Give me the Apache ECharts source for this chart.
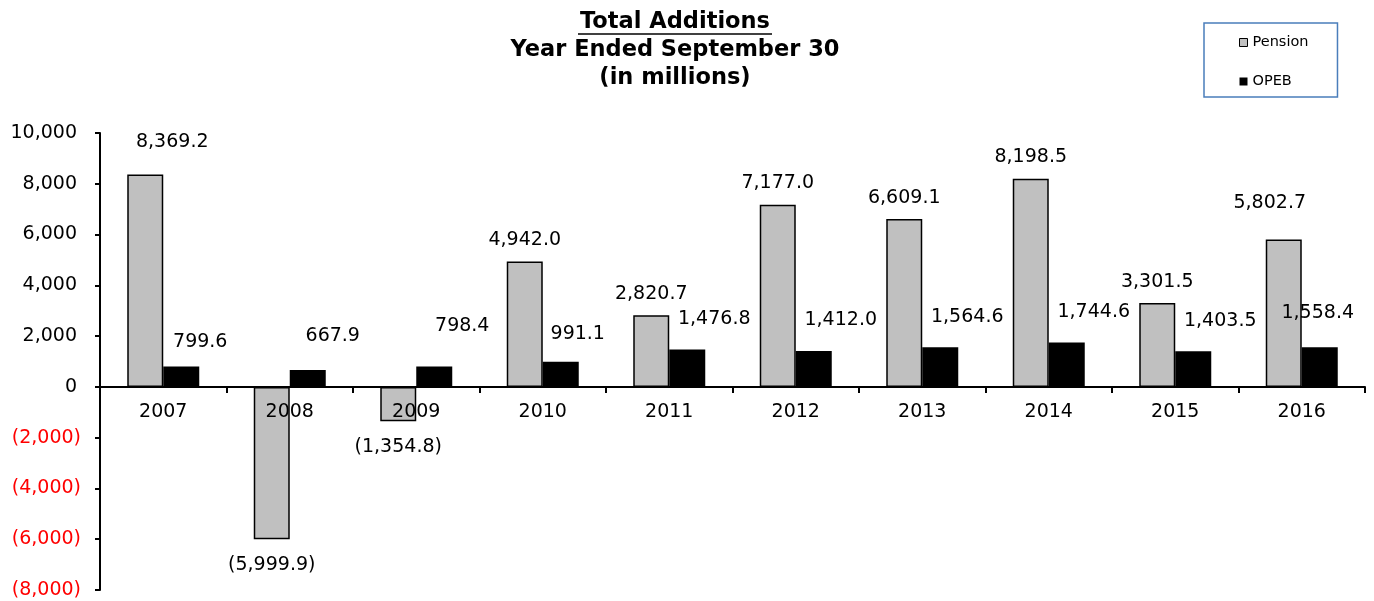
<!DOCTYPE html>
<html lang="en">
<head>
    <meta charset="utf-8">
    <title>Total Additions</title>
    <style>
        html, body { margin: 0; padding: 0; background: #fff; }
        #main { width: 1374px; height: 601px; }
    </style>
</head>
<body>
<div id="main"></div>

<script src="https://cdn.jsdelivr.net/npm/echarts@6/dist/echarts.min.js"></script>
<script type="text/javascript">
    // data
    var years = ['2007', '2008', '2009', '2010', '2011', '2012', '2013', '2014', '2015', '2016'];
    var pension = [8369.2, -5999.9, -1354.8, 4942.0, 2820.7, 7177.0, 6609.1, 8198.5, 3301.5, 5802.7];
    var opeb = [799.6, 667.9, 798.4, 991.1, 1476.8, 1412.0, 1564.6, 1744.6, 1403.5, 1558.4];
    var yTicks = [-8000, 10000, 2000]; // min, max, step

    var font = '"DejaVu Sans", sans-serif';

    function fmt(v, digits) {
        var s = Math.abs(v).toLocaleString('en-US', {
            minimumFractionDigits: digits,
            maximumFractionDigits: digits
        });
        return v < 0 ? '(' + s + ')' : s;
    }

    // hand-placed labels in the original, nudged from the default spot
    var pensionNudge = {0: [27, -11], 9: [-14, -15]};
    var opebNudge = {0: [-8, 6], 1: [-2, -3], 2: [1, -10], 3: [-10, 3], 9: [-29, -4]};

    function labelFor(v, i, nudge, base) {
        var off = nudge[i] || [0, 0];
        return {
            position: v < 0 ? 'bottom' : 'top',
            distance: v < 0 ? 16 : base.dist,
            offset: [base.dx + off[0], off[1]]
        };
    }

    // grid geometry, used to put the category axis on the zero line
    var gridTop = 133, gridBottom = 11, chartH = 601;
    var plotH = chartH - gridTop - gridBottom;
    var zeroShift = plotH * (0 - yTicks[0]) / (yTicks[1] - yTicks[0]);

    var myChart = echarts.init(document.getElementById('main'));

    var titleFont = 'bold 22.5px ' + font;

    myChart.setOption({
        animation: false,
        textStyle: {fontFamily: font},
        grid: {left: 100, right: 9, top: gridTop, bottom: gridBottom, containLabel: false, outerBoundsMode: 'none'},
        graphic: [
            {type: 'text', x: 675, y: 22, style: {text: 'Total Additions', font: titleFont, fill: '#000', textAlign: 'center', textVerticalAlign: 'middle', verticalAlign: 'middle'}},
            {type: 'line', shape: {x1: 578, y1: 34, x2: 772, y2: 34}, style: {stroke: '#000', lineWidth: 1.5}},
            {type: 'text', x: 675, y: 50, style: {text: 'Year Ended September 30', font: titleFont, fill: '#000', textAlign: 'center', textVerticalAlign: 'middle', verticalAlign: 'middle'}},
            {type: 'text', x: 675, y: 78, style: {text: '(in millions)', font: titleFont, fill: '#000', textAlign: 'center', textVerticalAlign: 'middle', verticalAlign: 'middle'}}
        ],
        legend: {
            orient: 'vertical',
            left: 1204,
            top: 23,
            padding: [12, 29, 8, 35],
            borderColor: '#4A7EBB',
            borderWidth: 1.5,
            itemWidth: 8,
            itemHeight: 8,
            itemGap: 24,
            icon: 'rect',
            textStyle: {fontFamily: font, fontSize: 14.5, color: '#000'},
            data: [
                {name: 'Pension', itemStyle: {color: '#C0C0C0', borderColor: '#000', borderWidth: 1}},
                {name: 'OPEB', itemStyle: {color: '#000'}}
            ]
        },
        xAxis: {
            type: 'category',
            data: years,
            z: 3,
            offset: -zeroShift,
            axisLine: {onZero: false, lineStyle: {color: '#000', width: 2}},
            axisTick: {show: true, length: 6, lineStyle: {color: '#000', width: 2}},
            axisLabel: {color: '#000', fontSize: 19, fontFamily: font, margin: 16}
        },
        yAxis: {
            type: 'value',
            min: yTicks[0],
            max: yTicks[1],
            interval: yTicks[2],
            splitLine: {show: false},
            axisLine: {show: true, lineStyle: {color: '#000', width: 2}},
            axisTick: {show: true, length: 5, lineStyle: {color: '#000', width: 2}},
            axisLabel: {
                margin: 19,
                fontSize: 19,
                fontFamily: font,
                color: '#000',
                formatter: function (v) {
                    return v < 0 ? '{neg|' + fmt(v, 0) + '}' : '{pos|' + fmt(v, 0) + '}';
                },
                rich: {
                    neg: {color: '#FF0000', fontSize: 19, fontFamily: font},
                    pos: {color: '#000', fontSize: 19, fontFamily: font, padding: [0, 4, 0, 0]}
                }
            }
        },
        series: [
            {
                name: 'Pension',
                type: 'bar',
                barWidth: 36,
                barGap: '0%',
                itemStyle: {color: '#C0C0C0', borderColor: '#000', borderWidth: 1.5},
                label: {
                    show: true,
                    color: '#000',
                    fontSize: 19,
                    fontFamily: font,
                    formatter: function (p) { return fmt(p.value, 1); }
                },
                data: pension.map(function (v, i) {
                    return {value: v, label: labelFor(v, i, pensionNudge, {dist: 12, dx: 0})};
                })
            },
            {
                name: 'OPEB',
                type: 'bar',
                barWidth: 36,
                barGap: '0%',
                itemStyle: {color: '#000'},
                label: {
                    show: true,
                    color: '#000',
                    fontSize: 19,
                    fontFamily: font,
                    formatter: function (p) { return fmt(p.value, 1); }
                },
                data: opeb.map(function (v, i) {
                    return {value: v, label: labelFor(v, i, opebNudge, {dist: 21, dx: 27})};
                })
            }
        ]
    });
</script>
</body>
</html>
